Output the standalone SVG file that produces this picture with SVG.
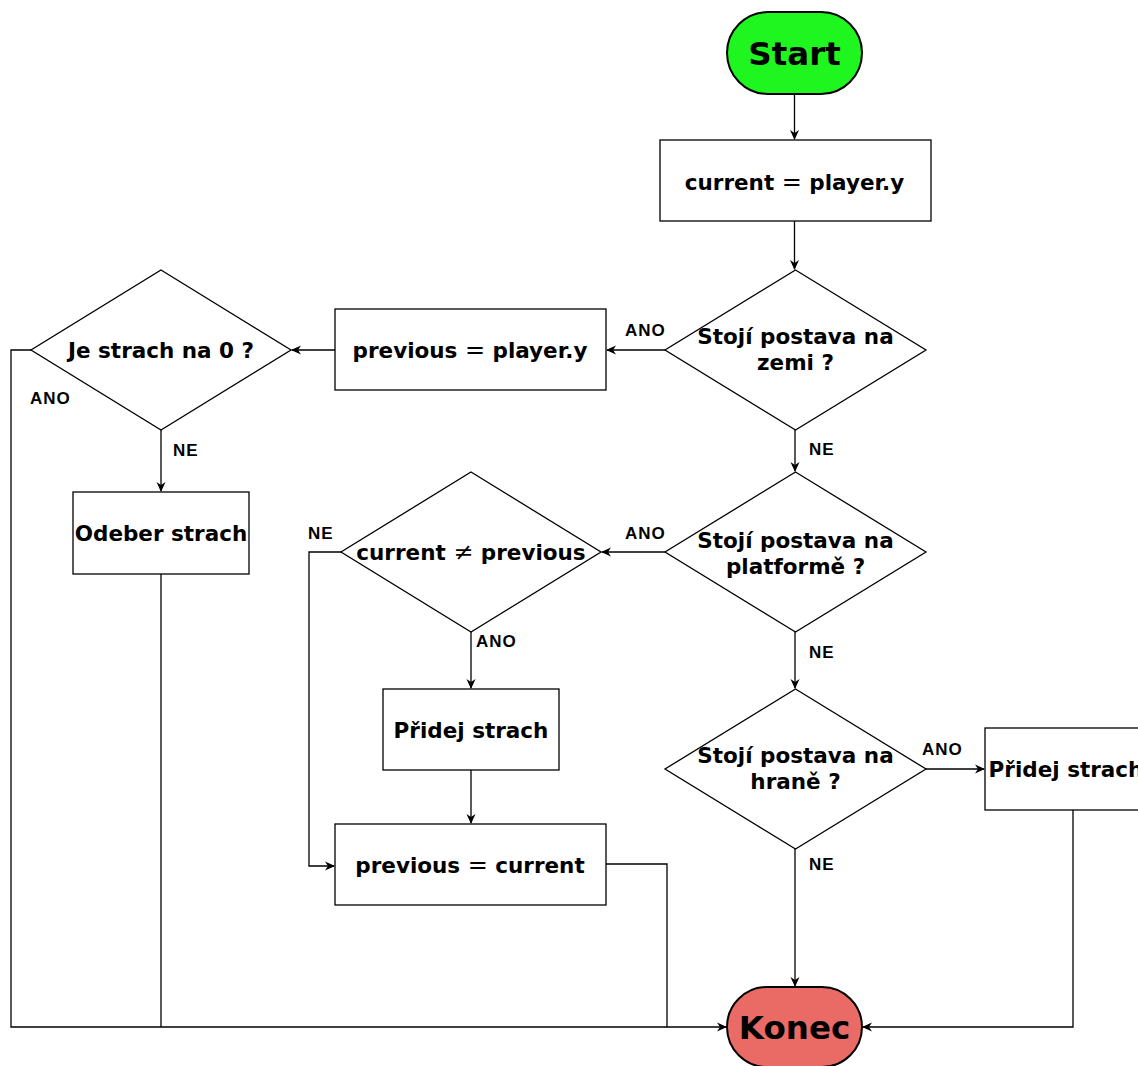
<svg xmlns="http://www.w3.org/2000/svg" width="1138" height="1066" viewBox="0 0 1138 1066">
<defs>
<marker id="arr" markerWidth="10" markerHeight="10" viewBox="0 0 10 10" refX="9" refY="5" orient="auto" markerUnits="userSpaceOnUse">
<path d="M0,0.5 L10,5 L0,9.5 L3,5 Z" fill="#000"/>
</marker>
<style>
.n{fill:#fff;stroke:#000;stroke-width:1.3}
.t{font-family:"DejaVu Sans",sans-serif;font-weight:bold;font-size:21.5px;text-anchor:middle;fill:#000}
.m{font-family:"DejaVu Serif",serif;font-weight:normal;font-size:24px}
.b{font-family:"DejaVu Sans",sans-serif;font-weight:bold;font-size:32.5px;text-anchor:middle;fill:#000}
.l{font-family:"Liberation Sans",Arial,sans-serif;font-weight:bold;font-size:17px;letter-spacing:1px;fill:#000}
.c{fill:none;stroke:#000;stroke-width:1.3}
.a{marker-end:url(#arr)}
</style>
</defs>
<rect width="1138" height="1066" fill="#fff"/>
<g id="connectors">
<path class="c a" d="M794.5,94 V139"/>
<path class="c a" d="M794.5,221 V269"/>
<path class="c a" d="M665,350 H607"/>
<path class="c a" d="M335,350 H292"/>
<path class="c" d="M31,350 H11 V1027 H667"/>
<path class="c a" d="M161,430 V491"/>
<path class="c" d="M161,574 V1027"/>
<path class="c a" d="M795,430 V471"/>
<path class="c a" d="M665,552 H602"/>
<path class="c a" d="M341,552 H309 V866 H334"/>
<path class="c a" d="M471,632 V688"/>
<path class="c a" d="M471,770 V823"/>
<path class="c a" d="M606,864 H667 V1027 H726"/>
<path class="c a" d="M795,632 V688"/>
<path class="c a" d="M926,769 H984"/>
<path class="c a" d="M795,849 V986"/>
<path class="c a" d="M1073,810 V1027 H863"/>
<text class="l" x="625" y="336">ANO</text>
<text class="l" x="30" y="404">ANO</text>
<text class="l" x="173" y="456">NE</text>
<text class="l" x="809" y="455">NE</text>
<text class="l" x="625" y="539">ANO</text>
<text class="l" x="308" y="539">NE</text>
<text class="l" x="476" y="647">ANO</text>
<text class="l" x="809" y="658">NE</text>
<text class="l" x="922" y="755">ANO</text>
<text class="l" x="809" y="870">NE</text>
</g>
<g id="start">
<rect x="727" y="12" width="135" height="82" rx="41" ry="41" fill="#1ff51f" stroke="#000" stroke-width="2"/>
<text class="b" x="794.5" y="65">Start</text>
</g>
<g id="current-assign">
<rect class="n" x="660" y="140" width="271" height="81"/>
<text class="t" x="794.5" y="190">current <tspan class="m">=</tspan> player.y</text>
</g>
<g id="on-ground">
<polygon class="n" points="795.5,270 926,350 795.5,430 665,350"/>
<text class="t" x="795.5" y="344">Stojí postava na</text>
<text class="t" x="795.5" y="370">zemi ?</text>
</g>
<g id="previous-assign">
<rect class="n" x="335" y="309" width="271" height="81"/>
<text class="t" x="470" y="358">previous <tspan class="m">=</tspan> player.y</text>
</g>
<g id="fear-zero">
<polygon class="n" points="161,270 291,350 161,430 31,350"/>
<text class="t" x="161" y="358">Je strach na 0 ?</text>
</g>
<g id="remove-fear">
<rect class="n" x="73" y="492" width="176" height="82"/>
<text class="t" x="161" y="541">Odeber strach</text>
</g>
<g id="on-platform">
<polygon class="n" points="795.5,472 926,552 795.5,632 665,552"/>
<text class="t" x="795.5" y="548">Stojí postava na</text>
<text class="t" x="795.5" y="574">platformě ?</text>
</g>
<g id="changed">
<polygon class="n" points="471,472 601,552 471,632 341,552"/>
<text class="t" x="471" y="560">current <tspan class="m">≠</tspan> previous</text>
</g>
<g id="add-fear-1">
<rect class="n" x="383" y="689" width="176" height="81"/>
<text class="t" x="471" y="738">Přidej strach</text>
</g>
<g id="previous-current">
<rect class="n" x="335" y="824" width="271" height="81"/>
<text class="t" x="470" y="873">previous <tspan class="m">=</tspan> current</text>
</g>
<g id="on-edge">
<polygon class="n" points="795.5,689 926,769 795.5,849 665,769"/>
<text class="t" x="795.5" y="763">Stojí postava na</text>
<text class="t" x="795.5" y="789">hraně ?</text>
</g>
<g id="add-fear-2">
<rect class="n" x="985" y="728" width="176" height="82"/>
<text class="t" x="1066" y="777">Přidej strach</text>
</g>
<g id="end">
<rect x="727" y="987" width="135" height="80" rx="40" ry="40" fill="#ea6b66" stroke="#000" stroke-width="2"/>
<text class="b" x="794.5" y="1039">Konec</text>
</g>
</svg>
